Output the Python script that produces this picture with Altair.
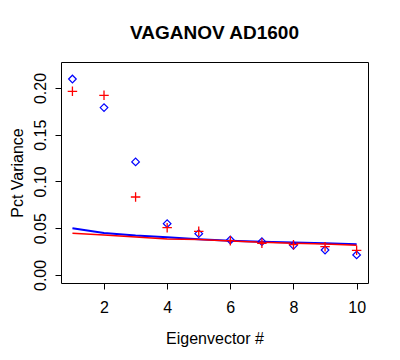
import altair as alt
import pandas as pd

eigen = [1, 2, 3, 4, 5, 6, 7, 8, 9, 10]
blue_points = [0.2096, 0.179, 0.1209, 0.0549, 0.0442, 0.0374, 0.0356, 0.0317, 0.0267, 0.0214]
red_points = [0.1964, 0.1922, 0.0834, 0.0506, 0.0467, 0.0367, 0.0339, 0.0324, 0.0303, 0.0264]
blue_line = [0.0499, 0.0449, 0.0421, 0.0403, 0.0382, 0.0367, 0.0356, 0.0346, 0.0339, 0.0328]
red_line = [0.0446, 0.0428, 0.0406, 0.0385, 0.0380, 0.0364, 0.0349, 0.0339, 0.0332, 0.0317]

FONT = "Liberation Sans"

df = pd.DataFrame({
    "k": eigen,
    "bp": blue_points,
    "rp": red_points,
    "bl": blue_line,
    "rl": red_line,
})

xscale = alt.Scale(domain=[0.638, 10.36], nice=False, zero=False)
yscale = alt.Scale(domain=[-0.0086, 0.2278], nice=False, zero=False)

xaxis = alt.Axis(
    values=[2, 4, 6, 8, 10], grid=False, domain=False, tickColor="black",
    tickSize=6, labelFont=FONT, labelFontSize=16, labelColor="black",
    labelBaseline="middle", labelPadding=18, title="Eigenvector #",
    titleFont=FONT, titleFontSize=16, titleFontWeight="normal", titleColor="black",
    titleX=153.5, titleY=55, titleBaseline="middle", titleAlign="center",
)
yaxis = alt.Axis(
    values=[0.0, 0.05, 0.10, 0.15, 0.20], format=".2f", grid=False, domain=False,
    tickColor="black", tickSize=6, labelFont=FONT, labelFontSize=16,
    labelColor="black", labelAngle=-90, labelAlign="center", labelBaseline="middle",
    labelPadding=15, title="Pct Variance", titleFont=FONT, titleFontSize=16,
    titleFontWeight="normal", titleColor="black", titleX=-52, titleY=110.5,
    titleAngle=-90, titleAlign="center", titleBaseline="top",
)

base = alt.Chart(df)

blue_l = base.mark_line(color="#0000FF", strokeWidth=2).encode(
    x=alt.X("k:Q", scale=xscale, axis=xaxis), y=alt.Y("bl:Q", scale=yscale, axis=yaxis)
)
red_l = base.mark_line(color="#FF0000", strokeWidth=1.5).encode(
    x=alt.X("k:Q", scale=xscale), y=alt.Y("rl:Q", scale=yscale)
)
blue_p = base.mark_point(shape="diamond", filled=False, color="#0000FF", size=58, strokeWidth=1.2, opacity=1).encode(
    x=alt.X("k:Q", scale=xscale), y=alt.Y("bp:Q", scale=yscale)
)
red_p = base.mark_point(shape="M-1,0L1,0M0,-1L0,1", filled=False, color="#FF0000", size=90, strokeWidth=1.3, opacity=1).encode(
    x=alt.X("k:Q", scale=xscale), y=alt.Y("rp:Q", scale=yscale)
)

chart = alt.layer(blue_l, red_l, blue_p, red_p).properties(
    width=307, height=221,
    title=alt.TitleParams("VAGANOV AD1600", font=FONT, fontSize=19, fontWeight="bold",
                          color="black", anchor="middle", offset=19),
    autosize=alt.AutoSizeParams(type="none"),
    padding={"left": 53, "top": 54, "right": 24, "bottom": 69},
).configure_view(stroke="black", strokeWidth=1)

chart.save("out.html", embed_options={"renderer": "svg", "actions": False})
